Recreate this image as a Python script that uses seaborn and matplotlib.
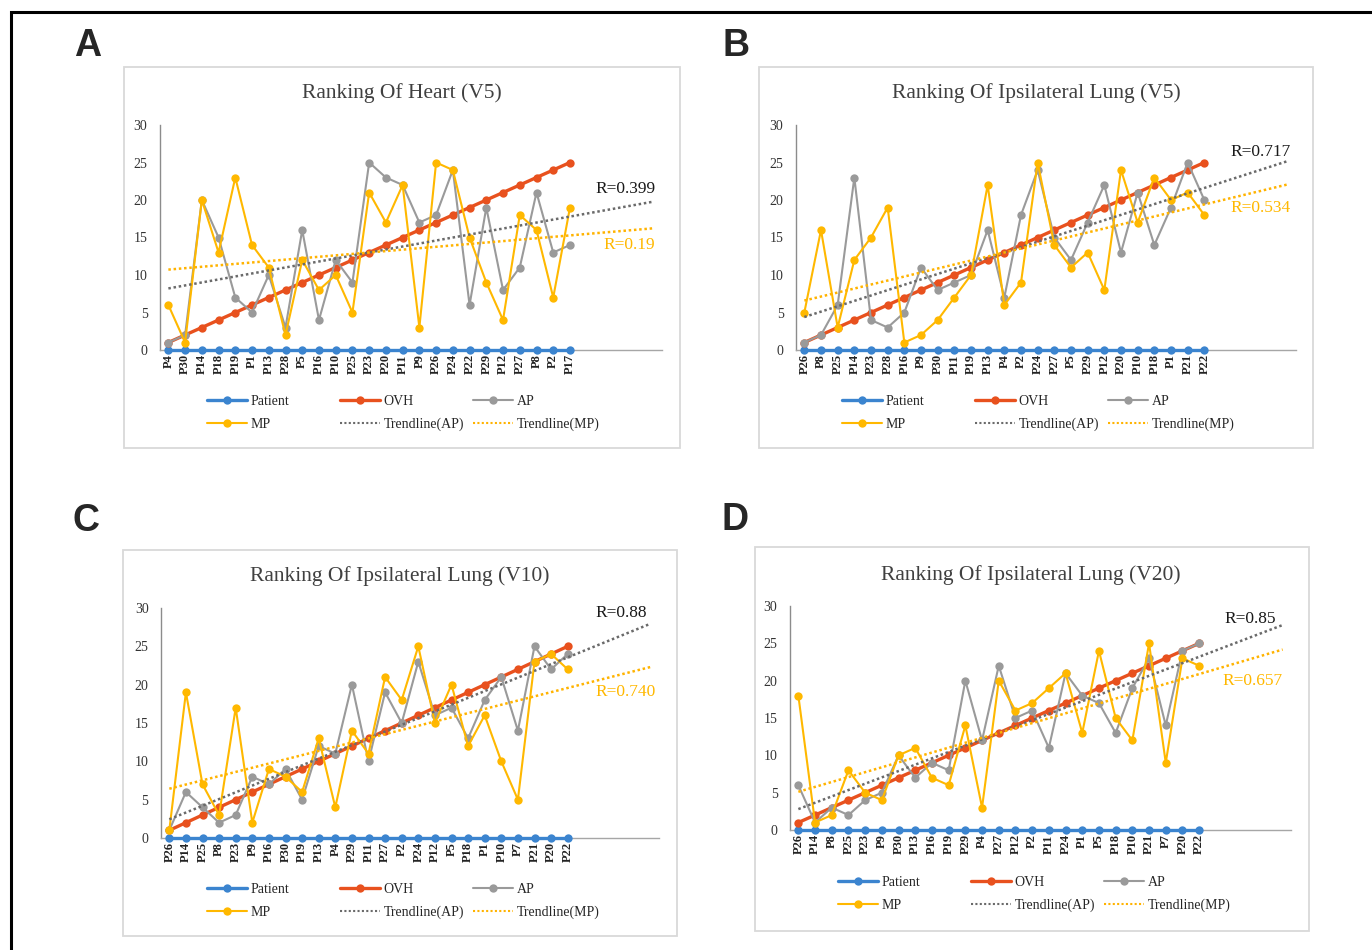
import matplotlib
matplotlib.use('Agg')
import matplotlib.pyplot as plt
from matplotlib.lines import Line2D
from matplotlib.patches import Rectangle
import numpy as np
import pandas as pd
import seaborn as sns

W, H = 1372, 950

# patient order on the x axis (sorted by OVH rank), one list per panel
patients_a = ['P4', 'P30', 'P14', 'P18', 'P19', 'P1', 'P13', 'P28', 'P5', 'P16', 'P10', 'P25', 'P23',
              'P20', 'P11', 'P9', 'P26', 'P24', 'P22', 'P29', 'P12', 'P27', 'P8', 'P2', 'P17']
patients_b = ['P26', 'P8', 'P25', 'P14', 'P23', 'P28', 'P16', 'P9', 'P30', 'P11', 'P19', 'P13', 'P4',
              'P2', 'P24', 'P27', 'P5', 'P29', 'P12', 'P20', 'P10', 'P18', 'P1', 'P21', 'P22']
patients_c = ['P26', 'P14', 'P25', 'P8', 'P23', 'P9', 'P16', 'P30', 'P19', 'P13', 'P4', 'P29', 'P11',
              'P27', 'P2', 'P24', 'P12', 'P5', 'P18', 'P1', 'P10', 'P7', 'P21', 'P20', 'P22']
patients_d = ['P26', 'P14', 'P8', 'P25', 'P23', 'P9', 'P30', 'P13', 'P16', 'P19', 'P29', 'P4', 'P27',
              'P12', 'P2', 'P11', 'P24', 'P1', 'P5', 'P18', 'P10', 'P21', 'P7', 'P20', 'P22']

patient_rank = [0, 0, 0, 0, 0, 0, 0, 0, 0, 0, 0, 0, 0, 0, 0, 0, 0, 0, 0, 0, 0, 0, 0, 0, 0]
ovh_rank = [1, 2, 3, 4, 5, 6, 7, 8, 9, 10, 11, 12, 13, 14, 15, 16, 17, 18, 19, 20, 21, 22, 23, 24, 25]

ap_a = [1, 2, 20, 15, 7, 5, 10, 3, 16, 4, 12, 9, 25, 23, 22, 17, 18, 24, 6, 19, 8, 11, 21, 13, 14]
mp_a = [6, 1, 20, 13, 23, 14, 11, 2, 12, 8, 10, 5, 21, 17, 22, 3, 25, 24, 15, 9, 4, 18, 16, 7, 19]
ap_b = [1, 2, 6, 23, 4, 3, 5, 11, 8, 9, 10, 16, 7, 18, 24, 15, 12, 17, 22, 13, 21, 14, 19, 25, 20]
mp_b = [5, 16, 3, 12, 15, 19, 1, 2, 4, 7, 10, 22, 6, 9, 25, 14, 11, 13, 8, 24, 17, 23, 20, 21, 18]
ap_c = [1, 6, 4, 2, 3, 8, 7, 9, 5, 12, 11, 20, 10, 19, 15, 23, 16, 17, 13, 18, 21, 14, 25, 22, 24]
mp_c = [1, 19, 7, 3, 17, 2, 9, 8, 6, 13, 4, 14, 11, 21, 18, 25, 15, 20, 12, 16, 10, 5, 23, 24, 22]
ap_d = [6, 1, 3, 2, 4, 5, 10, 7, 9, 8, 20, 12, 22, 15, 16, 11, 21, 18, 17, 13, 19, 23, 14, 24, 25]
mp_d = [18, 1, 2, 8, 5, 4, 10, 11, 7, 6, 14, 3, 20, 16, 17, 19, 21, 13, 24, 15, 12, 25, 9, 23, 22]

titles = ['Ranking Of Heart (V5)', 'Ranking Of Ipsilateral Lung (V5)',
          'Ranking Of Ipsilateral Lung (V10)', 'Ranking Of Ipsilateral Lung (V20)']
letters = ['A', 'B', 'C', 'D']
r_ap_labels = ['R=0.399', 'R=0.717', 'R=0.88', 'R=0.85']
r_mp_labels = ['R=0.19', 'R=0.534', 'R=0.740', 'R=0.657']
forecast = 5  # trendline forecast forward (periods)

c_patient = '#3B84CF'
c_ovh = '#E8511E'
c_ap = '#9A9A9A'
c_mp = '#FFB800'
c_ap_trend = '#6A6A6A'
c_mp_trend = '#FFB300'

series_style = {
    'Patient': dict(color=c_patient, lw=2.4),
    'OVH': dict(color=c_ovh, lw=2.4),
    'AP': dict(color=c_ap, lw=1.5),
    'MP': dict(color=c_mp, lw=1.5),
}

# layout in pixels: axes box (x0, y_top, x1, y_bottom), chart frame, title centre,
# letter centre, legend first row start, R label positions (data coords)
layout = [
    dict(ax=(160, 125, 662, 350), frame=(124, 67, 680, 448), title=(402, 93), letter=(88, 46),
         leg=(207, 404), r_ap=(30.1, 21.5), r_mp=(30.1, 14.0)),
    dict(ax=(796, 125, 1296, 350), frame=(759, 67, 1313, 448), title=(1036, 93), letter=(736, 46),
         leg=(842, 404), r_ap=(30.2, 26.4), r_mp=(30.2, 18.9)),
    dict(ax=(161, 608, 659, 838), frame=(123, 550, 677, 936), title=(400, 576), letter=(86, 521),
         leg=(207, 892), r_ap=(29.8, 29.3), r_mp=(30.3, 19.0)),
    dict(ax=(790, 606, 1291, 830), frame=(755, 547, 1309, 931), title=(1031, 575), letter=(735, 520),
         leg=(838, 885), r_ap=(29.6, 28.3), r_mp=(30.0, 20.0)),
]

sns.set_theme(style='white')
plt.rcParams['font.family'] = ['Liberation Serif', 'DejaVu Serif']

fig = plt.figure(figsize=(W / 100, H / 100), dpi=100)


def fx(px):
    return px / W


def fy(py):
    return 1 - py / H


def draw_panel(lay, patients, ap, mp, title, letter, r_ap, r_mp):
    x0, yt, x1, yb = lay['ax']
    ax = fig.add_axes([fx(x0), fy(yb), (x1 - x0) / W, (yb - yt) / H])
    ax.set_facecolor('none')
    pos = np.arange(1, len(patients) + 1)
    df = pd.DataFrame({'pos': pos, 'Patient': patient_rank, 'OVH': ovh_rank, 'AP': ap, 'MP': mp})
    long = df.melt(id_vars='pos', var_name='series', value_name='rank')
    for name, st in series_style.items():
        sns.lineplot(data=long[long['series'] == name], x='pos', y='rank', ax=ax,
                     color=st['color'], lw=st['lw'], marker='o', markersize=6,
                     markeredgewidth=0, legend=False, clip_on=False, zorder=3)
    # linear trendlines, forecast forward like Excel
    xt = np.array([1, len(pos) + forecast])
    for vals, col in ((ap, c_ap_trend), (mp, c_mp_trend)):
        k, b = np.polyfit(pos, vals, 1)
        ax.plot(xt, k * xt + b, color=col, lw=1.8, ls=(0, (1, 1.1)), dash_capstyle='butt', zorder=4)

    ax.set_xlim(0.5, len(pos) + forecast + 0.5)
    ax.set_ylim(0, 30)
    ax.set_yticks(range(0, 31, 5))
    ax.set_xticks(pos)
    ax.set_xticklabels(patients, rotation=90, fontsize=9, fontweight='bold', color='#222222')
    ax.tick_params(axis='y', length=0, pad=9, labelsize=10, labelcolor='#333333')
    ax.tick_params(axis='x', length=0, pad=3)
    ax.set_xlabel('')
    ax.set_ylabel('')
    for s in ('top', 'right'):
        ax.spines[s].set_visible(False)
    ax.spines['left'].set_color('#8C8C8C')
    ax.spines['bottom'].set_color('#A6A6A6')
    ax.spines['left'].set_linewidth(1.0)
    ax.spines['bottom'].set_linewidth(1.0)

    ax.text(lay['r_ap'][0], lay['r_ap'][1], r_ap, ha='right', va='center', fontsize=12.5, color='#1A1A1A')
    ax.text(lay['r_mp'][0], lay['r_mp'][1], r_mp, ha='right', va='center', fontsize=12.5, color=c_mp)

    # chart area frame
    f0, ft, f1, fb = lay['frame']
    fig.add_artist(Rectangle((fx(f0), fy(fb)), (f1 - f0) / W, (fb - ft) / H, transform=fig.transFigure,
                             fill=False, ec='#D9D9D9', lw=1.3))
    fig.text(fx(lay['title'][0]), fy(lay['title'][1]), title, ha='center', va='center',
             fontsize=15.5, color='#404040')
    fig.text(fx(lay['letter'][0]), fy(lay['letter'][1]), letter, ha='center', va='center',
             fontsize=27, fontweight='bold', family=['Liberation Sans', 'DejaVu Sans'])

    # legend: three fixed-width columns like Excel
    h_patient = Line2D([], [], color=c_patient, lw=2.4, marker='o', ms=6, mew=0)
    h_ovh = Line2D([], [], color=c_ovh, lw=2.4, marker='o', ms=6, mew=0)
    h_ap = Line2D([], [], color=c_ap, lw=1.5, marker='o', ms=6, mew=0)
    h_mp = Line2D([], [], color=c_mp, lw=1.5, marker='o', ms=6, mew=0)
    h_apt = Line2D([], [], color=c_ap_trend, lw=1.5, ls=(0, (1, 1.1)))
    h_mpt = Line2D([], [], color=c_mp_trend, lw=1.5, ls=(0, (1, 1.1)))
    columns = [([h_patient, h_mp], ['Patient', 'MP']),
               ([h_ovh, h_apt], ['OVH', 'Trendline(AP)']),
               ([h_ap, h_mpt], ['AP', 'Trendline(MP)'])]
    lx, ly = lay['leg']
    for i, (hs, labels) in enumerate(columns):
        fig.legend(hs, labels, loc='upper left', bbox_to_anchor=(fx(lx + i * 133), fy(ly - 9)),
                   frameon=False, fontsize=10, borderpad=0, borderaxespad=0, handlelength=2.9,
                   handletextpad=0.25, labelspacing=0.72, numpoints=1)
    return ax


data = [(patients_a, ap_a, mp_a), (patients_b, ap_b, mp_b),
        (patients_c, ap_c, mp_c), (patients_d, ap_d, mp_d)]
for i, (pts, ap, mp) in enumerate(data):
    draw_panel(layout[i], pts, ap, mp, titles[i], letters[i], r_ap_labels[i], r_mp_labels[i])

# outer black border (left and top visible)
fig.add_artist(Rectangle((fx(11), fy(965)), (1390 - 11) / W, (965 - 12) / H, transform=fig.transFigure,
                         fill=False, ec='black', lw=2.2))

fig.savefig('out.png', dpi=100)
plt.close(fig)
